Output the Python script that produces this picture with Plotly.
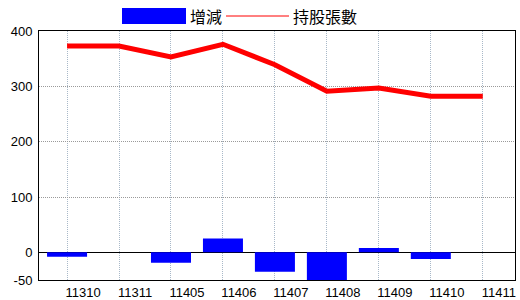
import plotly.graph_objects as go

categories = ["11310", "11311", "11405", "11406", "11407", "11408", "11409", "11410", "11411"]
change_values = [-8, 0, -19, 25, -35, -50, 8, -12, 0]
holding_values = [373, 373, 353, 376, 339, 291, 297, 282, 282]
y_ticks = [-50, 0, 100, 200, 300, 400]
legend_names = ["增減", "持股張數"]

BLUE = "#0000ff"
RED = "#ff0000"
VGRID = "#a8b8c8"
HGRID = "#9a9a9a"
FONT = "Liberation Sans Narrow, Liberation Sans, Noto Sans CJK TC, sans-serif"

fig = go.Figure()
fig.add_trace(go.Bar(x=categories, y=change_values, name=legend_names[0],
                     marker=dict(color=BLUE, line=dict(width=0)), width=0.77))
fig.add_trace(go.Scatter(x=categories, y=holding_values, name=legend_names[1], mode="lines",
                         line=dict(color=RED, width=5)))

fig.update_layout(
    width=520, height=300,
    margin=dict(l=39, r=5, t=31, b=20),
    paper_bgcolor="white", plot_bgcolor="white",
    showlegend=False,
    font=dict(family=FONT, size=13, color="black"),
)
fig.update_xaxes(
    type="category", range=[-0.54, 8.62], automargin=False,
    showgrid=True, gridcolor=VGRID, griddash="1px,1px", gridwidth=1,
    showline=True, linecolor="black", linewidth=1, mirror=True,
    ticks="", ticklabelshift=16, ticklabelstandoff=0,
    tickfont=dict(family=FONT, size=13),
)
fig.update_yaxes(
    range=[-50, 400], tickvals=y_ticks, ticktext=[str(v) for v in y_ticks], automargin=False,
    showgrid=True, gridcolor=HGRID, griddash="1px,1px", gridwidth=1,
    zeroline=True, zerolinecolor="black", zerolinewidth=1,
    showline=True, linecolor="black", linewidth=1, mirror=True,
    ticks="", ticklabelstandoff=3,
    tickfont=dict(family=FONT, size=13),
)

# Custom legend at the top
fig.add_shape(type="rect", xref="paper", yref="paper",
              x0=(122 - 39) / 476, x1=(186 - 39) / 476,
              y0=(280 - 24) / 249, y1=(280 - 8) / 249,
              fillcolor=BLUE, line=dict(width=0))
fig.add_annotation(xref="paper", yref="paper", x=(188 - 39) / 476, y=(280 - 16) / 249,
                   text=legend_names[0], showarrow=False, xanchor="left", yanchor="middle",
                   font=dict(family="Noto Sans CJK TC", size=16, color="black"))
fig.add_shape(type="line", xref="paper", yref="paper",
              x0=(226 - 39) / 476, x1=(289 - 39) / 476,
              y0=(280 - 16) / 249, y1=(280 - 16) / 249,
              line=dict(color=RED, width=1))
fig.add_annotation(xref="paper", yref="paper", x=(291 - 39) / 476, y=(280 - 16) / 249,
                   text=legend_names[1], showarrow=False, xanchor="left", yanchor="middle",
                   font=dict(family="Noto Sans CJK TC", size=16, color="black"))

fig.write_html("out.html")
